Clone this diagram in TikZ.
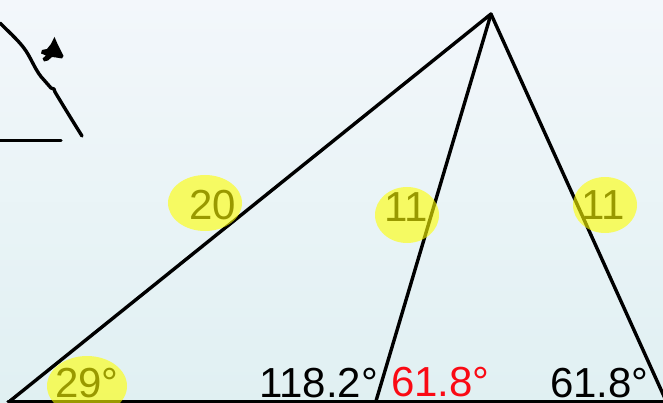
\documentclass[tikz,border=0pt]{standalone}
\usepackage{fontspec}
\setmainfont{Liberation Sans}
\definecolor{bgtop}{HTML}{F3F7FB}
\definecolor{bgbot}{HTML}{E0F0F2}
\definecolor{hl}{RGB}{255,255,0}
\definecolor{pen}{HTML}{FA0A14}
\tikzset{
  edge/.style={line width=3.4pt, line cap=round, line join=round},
  lbl/.style={inner sep=0pt, anchor=base west, font=\fontsize{42}{42}\selectfont},
  highlight/.style={fill=hl, opacity=0.6, draw=none},
  scribble/.style={line width=3.4pt, line cap=round, line join=round}
}
\begin{document}
\begin{tikzpicture}[x=1pt,y=-1pt]
\useasboundingbox (0,0) rectangle (663,403);
\shade[top color=bgtop, bottom color=bgbot] (0,0) rectangle (663,403);
\clip (0,0) rectangle (663,403);
% vertices
\coordinate (A) at (491,14);
\coordinate (L) at (10,401);
\coordinate (M) at (376,401);
\coordinate (R) at (667,403);
\coordinate (B0) at (8,401.5);
\coordinate (B1) at (663,401.5);
% triangle
\draw[edge] (L) -- (A) -- (M);
\draw[edge] (A) -- (R);
\draw[edge] (B0) -- (B1);
% labels
\node[lbl] (t20) at (189,220) {20};
\node[lbl] (t11a) at (384,222) {11};
\node[lbl] (t11b) at (581,220) {11};
\node[lbl] (t29) at (55,397) {29°};
\node[lbl] (t118) at (259,397) {118.2°};
\node[lbl, text=pen] (t618r) at (391,396) {61.8°};
\node[lbl] (t618) at (550,397) {61.8°};
% highlights
\fill[highlight] (205,203) ellipse [x radius=37, y radius=28];
\fill[highlight] (407,215) ellipse [x radius=32, y radius=28];
\fill[highlight] (605,205) ellipse [x radius=32, y radius=28];
\fill[highlight] (87,386) ellipse [x radius=40, y radius=30];
% top-left scribble
\draw[scribble] (0,23) .. controls (12,35) and (20,42) .. (26,51)
  .. controls (32,60) and (36,72) .. (44,80) -- (51,88) -- (54,89) -- (55,92)
  .. controls (64,107) and (72,120) .. (82,136);
\draw[scribble] (0,140.5) -- (61,140.5);
\fill[black] (54.5,37) -- (58,45) -- (61,51) -- (63.5,56) -- (62,58.5) -- (56,57.5)
  -- (52,57) -- (48,60.5) -- (44,61.5) -- (42.5,58.5) -- (46,55.5) -- (41,53.5)
  -- (42,50) -- (47,49) -- (51,44) -- cycle;
\end{tikzpicture}
\end{document}
